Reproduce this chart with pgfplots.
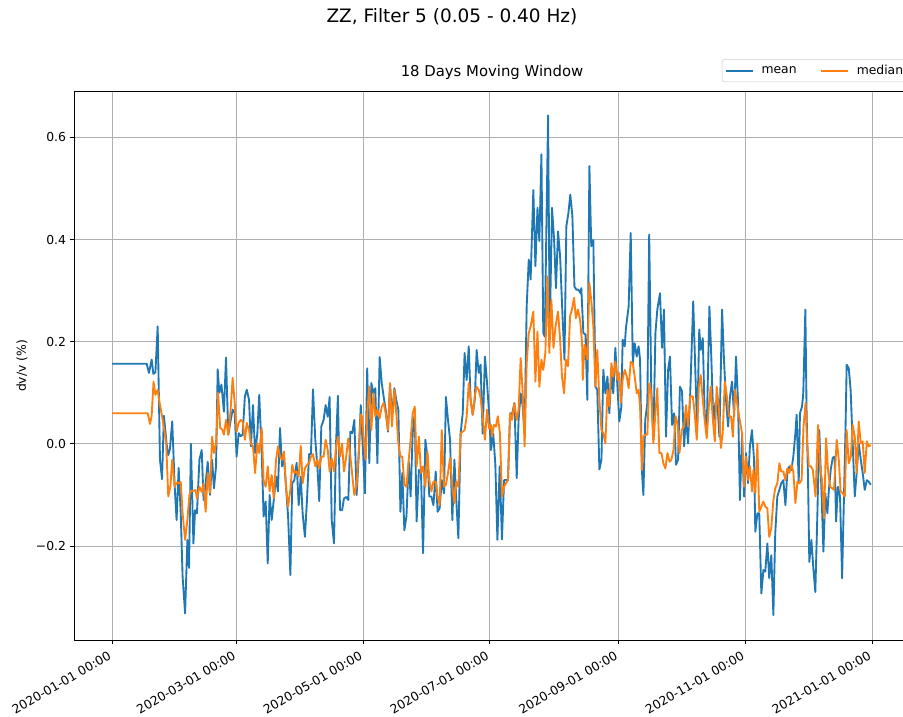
\documentclass[border=0pt]{standalone}
\usepackage{fontspec}
\setmainfont{DejaVu Sans}
\usepackage{pgfplots}
\pgfplotsset{compat=1.18}
\definecolor{mplblue}{HTML}{1F77B4}
\definecolor{mplorange}{HTML}{FF7F0E}
\definecolor{gridgray}{HTML}{B0B0B0}
\definecolor{legframe}{HTML}{CCCCCC}

\begin{document}
\begin{tikzpicture}
% 1 px of the reference = 0.72pt
\begin{axis}[
  at={(53.28pt,55.44pt)}, anchor=south west,
  scale only axis, width=601.92pt, height=394.56pt,
  xmin=-18.3, xmax=384.3, ymin=-0.384, ymax=0.689,
  axis line style={black,line width=0.71pt},
  tick style={black,line width=0.71pt}, tick align=outside, major tick length=3.1pt,
  xtick pos=bottom, ytick pos=left,
  grid=major, major grid style={gridgray,line width=0.71pt},
  /pgf/number format/assume math mode=true,
  tick label style={font=\fontsize{8.9}{10.7}\selectfont},
  xtick={0,60,121,182,244,305,366},
  xticklabels={2020-01-01 00:00,2020-03-01 00:00,2020-05-01 00:00,2020-07-01 00:00,2020-09-01 00:00,2020-11-01 00:00,2021-01-01 00:00},
  xticklabel style={rotate=30,anchor=north east,inner sep=2pt,xshift=-3pt},
  ytick={-0.2,0,0.2,0.4,0.6},
  yticklabels={−0.2,0.0,0.2,0.4,0.6},
  yticklabel style={inner sep=2.5pt},
  ylabel={dv/v (\%)},
  ylabel style={at={(axis description cs:-0.0622,0.5)},anchor=center,font=\fontsize{8.9}{10.7}\selectfont},
  title={18 Days Moving Window},
  title style={at={(axis description cs:0.5,1)},anchor=base,yshift=4.8pt,inner sep=0pt,font=\fontsize{10.7}{12.8}\selectfont},
  legend columns=2,
  legend style={at={(axis description cs:0.775,1.060)},anchor=north west,
    draw=legframe,rounded corners=2pt,fill=white,inner sep=2pt,
    font=\fontsize{8.9}{10.7}\selectfont,
    /tikz/every odd column/.append style={column sep=3.6pt},
    /tikz/every even column/.append style={column sep=15pt}},
  legend image code/.code={\draw[#1] (0pt,0pt) -- (19.4pt,0pt);},
  line join=round,
]
\addplot[mplblue,line width=1.34pt,no markers] coordinates {
(0,0.157) (16.7,0.157) (17.8,0.139) (19.1,0.165) (19.9,0.137) (20.9,0.14) (22.0,0.23) (23.1,-0.031) (24.1,-0.069) (25.0,0.055) (26.3,0.0) (27.1,-0.022) (27.9,-0.01) (29.0,0.044) (30.2,-0.084) (31.1,-0.149) (32.1,-0.047) (33.1,-0.136) (34.0,-0.26) (35.2,-0.332) (36.3,-0.188) (37.1,-0.243) (38.0,0.0) (39.2,-0.195) (40.0,-0.13) (40.9,-0.136) (42.1,-0.031) (43.2,-0.012) (44.1,-0.11) (45.1,-0.077) (46.1,-0.035) (47.2,-0.1) (48.2,-0.031) (49.1,-0.087) (50.1,-0.044) (50.9,0.146) (51.7,0.1) (52.7,0.116) (53.9,0.063) (54.9,0.169) (56.0,0.018) (57.2,0.047)
(58.1,0.067) (59.1,0.06) (60.0,-0.025) (61.0,0.021) (62.0,0.015) (62.9,0.018) (64.0,0.093) (64.9,0.106) (66.0,0.086) (66.9,-0.005) (67.9,0.076) (68.9,-0.018) (70.0,0.021) (70.9,0.096) (72.1,-0.018) (73.0,-0.142) (74.0,-0.113) (75.0,-0.234) (75.9,-0.1) (76.9,-0.149) (77.9,-0.11) (79.0,-0.064) (79.9,-0.093) (80.9,0.031) (81.9,-0.044) (82.8,-0.025) (83.8,-0.084) (84.8,-0.142) (85.9,-0.257) (86.8,-0.077) (87.8,-0.071) (88.9,-0.037) (89.9,-0.12) (90.9,-0.064) (91.8,-0.136) (92.9,-0.182) (93.9,-0.11) (94.9,-0.02) (95.8,-0.02) (96.8,0.107) (97.9,0.008) (98.9,-0.044) (99.8,-0.112) (100.8,0.034) (101.9,0.047) (102.9,0.076) (103.9,0.053) (104.8,0.092) (105.8,-0.149) (106.9,-0.195) (107.9,0.002) (108.8,0.094) (109.8,-0.13) (110.8,-0.13) (111.7,-0.107) (112.8,-0.104) (113.8,-0.11) (114.8,0.024) (115.7,0.021) (116.7,0.047) (117.8,-0.1) (118.8,-0.025) (119.8,0.076)
(121.0,-0.025) (121.8,-0.097) (122.9,0.148) (123.9,-0.038) (124.9,0.119) (125.9,0.099) (126.8,0.109) (127.8,-0.038) (128.9,0.17) (129.9,0.119) (130.8,0.093) (131.8,0.067) (132.9,0.024) (133.9,0.116) (134.8,0.054) (136.0,0.109) (136.9,0.086) (137.9,0.067) (138.9,-0.133) (139.8,-0.057) (140.8,-0.169) (141.8,-0.142) (142.9,-0.035) (143.8,-0.103) (144.8,0.021) (145.8,0.06) (146.7,-0.152) (147.8,-0.051) (148.8,-0.057) (149.8,-0.214) (150.9,0.008) (151.9,-0.025) (152.8,-0.103) (153.8,-0.103) (154.8,-0.12) (155.9,-0.054) (156.8,-0.133) (157.8,-0.126) (158.8,-0.071) (159.9,-0.097) (160.8,0.092) (161.8,0.047) (162.8,0.008) (163.9,-0.149) (164.9,-0.031) (165.8,-0.11) (166.8,-0.185) (167.9,0.021) (168.9,0.06) (169.8,0.178) (170.8,0.125) (171.8,0.191) (172.7,0.086) (173.7,0.057) (174.7,0.086) (175.6,0.184) (176.6,0.139) (177.5,0.155)
(178.5,0.02) (179.6,0.171) (180.6,0.12) (181.6,0.06) (182.5,-0.012) (183.6,0.02) (184.6,-0.04) (185.6,-0.188)
(186.7,-0.044) (187.8,-0.187) (188.8,-0.071) (189.7,-0.071) (190.7,-0.071) (191.7,0.06) (192.6,0.057) (193.8,0.08) (194.9,-0.067) (195.8,0.047) (196.8,0.099) (197.8,0.073) (198.7,0.021) (199.7,0.269) (200.7,0.361) (201.6,0.322) (202.9,0.497) (203.9,0.348) (204.9,0.462) (205.8,0.397) (206.8,0.567) (207.7,0.217) (208.4,0.21) (209.3,0.452) (210.0,0.643) (210.8,0.217) (211.9,0.462) (212.9,0.4) (213.8,0.305) (214.8,0.416) (215.8,0.367) (216.9,0.256) (217.9,0.165) (218.8,0.426) (219.8,0.452) (220.7,0.488) (221.7,0.446) (222.7,0.308) (223.6,0.302) (224.6,0.302) (225.6,0.295) (226.0,0.305) (227.0,0.217) (228.0,0.214) (228.9,0.086) (229.9,0.544) (230.8,0.387) (231.8,0.399) (232.8,0.112) (233.7,0.106) (234.7,-0.05) (235.7,-0.031) (236.6,0.145) (237.6,0.099) (238.6,0.132) (239.5,0.06)
(240.5,0.139) (241.4,0.099) (242.4,0.188) (243.4,0.112) (244.3,0.044) (245.3,0.073) (245.9,0.204) (246.9,0.191) (247.5,0.227) (248.8,0.269) (249.8,0.413) (250.8,0.158) (251.7,0.197) (252.7,0.171) (253.6,0.191) (254.3,0.165) (255.2,-0.054) (255.9,-0.1) (256.8,0.047) (257.8,0.08) (258.7,0.41) (259.7,0.106) (260.7,0.008) (261.7,0.217) (262.6,0.263) (263.9,0.295) (264.9,0.188) (265.8,0.263) (266.8,0.014) (267.8,0.145) (268.7,0.171) (269.7,0.037) (270.7,0.06) (271.6,-0.041) (272.6,-0.031) (273.5,0.112) (274.5,0.103) (275.5,-0.005) (276.4,0.054) (277.4,0.001) (278.4,0.093) (279.9,0.279) (280.8,0.158) (281.8,0.027) (282.8,0.224) (283.5,0.184) (284.5,0.207) (285.4,0.06) (286.4,0.027) (287.7,0.269) (288.6,0.171) (289.6,0.041) (290.6,0.08) (291.5,0.086) (292.5,0.014) (293.8,0.263) (294.7,0.165) (295.7,0.086) (296.7,0.034) (297.6,0.093) (298.6,0.122) (299.6,0.054) (300.5,0.171) (301.5,0.08)
(302.4,-0.11) (303.4,0.014) (304.4,-0.103) (305.3,-0.018) (306.3,-0.077) (307.2,-0.005) (308.2,0.027) (309.2,-0.031) (309.8,-0.172) (310.8,-0.136) (311.7,-0.136) (312.7,-0.293) (313.7,-0.247) (314.6,-0.25) (315.6,-0.195) (316.5,-0.263) (317.5,-0.218) (318.5,-0.335) (319.4,-0.175) (320.4,-0.103) (321.4,-0.09) (322.3,-0.077) (323.3,-0.071) (324.3,-0.12) (325.2,-0.057) (326.2,-0.044) (327.2,-0.051) (328.1,-0.025) (329.1,0.021) (329.7,0.057) (330.7,-0.077) (331.3,0.06) (332.3,0.073) (332.9,0.099) (333.9,0.263) (334.5,0.06) (335.2,-0.071) (335.8,-0.231) (336.8,-0.188) (337.7,-0.241) (338.7,-0.29) (339.7,-0.136) (340.6,0.027) (341.6,-0.084) (342.6,-0.211) (343.5,-0.097) (344.5,-0.136) (345.1,-0.097) (346.1,-0.051) (347.1,-0.027) (348.0,-0.025) (348.7,-0.152) (349.6,-0.084) (350.6,-0.103) (351.6,-0.263) (352.5,-0.103) (353.2,0.021) (353.8,0.155) (354.8,0.148) (355.7,0.106) (356.7,0.001) (357.7,-0.103) (358.6,-0.057) (359.6,0.001) (360.6,-0.031) (361.5,-0.057) (362.5,-0.09) (363.5,-0.071) (364.4,-0.074) (365.4,-0.08)
};
\addlegendentry{mean}
\addplot[mplorange,line width=1.34pt,no markers] coordinates {
(0,0.06) (17.2,0.06) (18.3,0.039) (19.1,0.055) (20.0,0.122) (20.9,0.096) (22.0,0.106) (23.1,0.076) (24.1,0.054) (25.2,0.027) (26.1,0.0) (27.1,-0.103) (28.1,-0.084) (29.0,-0.031) (30.2,-0.084) (31.1,-0.076) (32.1,-0.077) (33.1,-0.074) (34.0,-0.136) (35.2,-0.188) (36.3,-0.149) (37.3,-0.1) (38.0,-0.092) (39.2,-0.092) (40.2,-0.09) (40.9,-0.107) (42.1,-0.084) (43.2,-0.094) (44.1,-0.078) (45.1,-0.133) (46.1,-0.057) (47.2,-0.096) (48.2,0.014) (49.1,-0.018) (50.1,0.0) (51.1,0.1) (52.1,0.031) (53.1,0.028) (53.9,0.018) (54.9,0.047) (56.0,0.018) (57.0,0.06)
(58.1,0.129) (59.1,0.08) (60.0,0.024) (61.0,0.041) (62.0,0.047) (62.9,0.044) (64.0,0.008) (64.9,0.041) (66.0,0.027) (66.9,0.001) (67.9,-0.005) (68.9,-0.057) (70.0,0.001) (70.9,-0.018) (72.1,0.031) (73.0,-0.071) (74.0,-0.084) (75.0,-0.044) (75.9,-0.093) (76.9,-0.061) (77.9,-0.107) (79.0,-0.031) (79.9,-0.005) (80.9,-0.025) (81.9,-0.031) (82.8,-0.015) (83.8,-0.084) (84.8,-0.123) (85.9,-0.09) (86.8,-0.041) (87.8,-0.057) (88.9,-0.054) (89.9,-0.064) (90.9,-0.004) (91.8,-0.077) (92.9,-0.048) (93.9,-0.041) (94.9,-0.038) (95.8,-0.025) (96.8,-0.02) (97.9,-0.044) (98.9,-0.031) (99.8,-0.048) (100.8,-0.025) (101.9,-0.025) (102.9,0.008) (103.9,-0.012) (104.8,-0.054) (105.8,-0.028) (106.9,-0.054) (107.9,-0.005) (108.8,0.014) (109.8,-0.025) (110.8,0.001) (111.7,-0.054) (112.8,-0.025) (113.8,0.011) (114.8,-0.025) (115.7,-0.061) (116.7,-0.1) (117.8,-0.08) (118.8,-0.018) (119.8,0.057)
(120.4,0.054) (121.3,0.008) (122.1,-0.031) (122.9,0.06) (123.9,0.112) (124.9,0.027) (125.9,0.099) (126.8,0.054) (127.8,0.067) (128.9,0.05) (129.9,0.073) (130.8,0.08) (131.8,0.06) (132.9,0.027) (133.9,0.119) (134.8,0.034) (136.0,0.106) (136.9,0.06) (137.9,0.001) (138.9,-0.025) (139.8,-0.025) (140.8,-0.08) (141.8,-0.084) (142.9,-0.031) (143.8,0.008) (144.8,0.06) (145.8,0.073) (146.7,-0.044) (147.8,0.014) (148.8,-0.057) (149.8,-0.044) (150.9,-0.084) (151.9,-0.015) (152.8,-0.071) (153.8,-0.093) (154.8,-0.074) (155.9,-0.074) (156.8,-0.103) (157.8,-0.12) (158.8,0.027) (159.9,-0.084) (160.8,-0.08) (161.8,-0.057) (162.8,-0.028) (163.9,-0.084) (164.9,-0.116) (165.8,-0.074) (166.8,-0.084) (167.9,0.021) (168.9,0.024) (169.8,0.027) (170.8,0.054) (171.8,0.119) (172.7,0.086) (173.7,0.057) (174.7,0.093) (175.6,0.112) (176.6,0.106) (177.5,0.09) (178.5,0.054) (179.6,0.008) (180.6,0.067) (181.6,0.03) (182.5,0.037)
(183.0,0.014) (183.9,0.037) (184.9,0.034) (185.8,0.054) (186.8,0.021) (187.8,-0.103) (188.8,-0.084) (189.7,-0.077) (190.7,-0.071) (191.7,0.06) (192.6,0.047) (193.8,0.08) (194.9,0.047) (195.8,0.067) (196.8,0.168) (197.8,0.099) (198.7,-0.005) (199.7,0.158) (200.7,0.217) (201.6,0.23) (202.9,0.259) (203.9,0.122) (204.9,0.22) (205.8,0.112) (206.8,0.165) (207.7,0.145) (208.7,0.178) (209.7,0.328) (210.6,0.178) (211.6,0.282) (212.6,0.188) (213.6,0.23) (214.8,0.259) (215.8,0.204) (216.7,0.132) (217.7,0.099) (218.6,0.165) (219.6,0.152) (220.6,0.25) (221.5,0.263) (222.5,0.286) (223.4,0.246) (224.4,0.263) (225.4,0.243) (226.4,0.197) (226.7,0.125) (227.6,0.194) (228.9,0.165) (229.9,0.315) (230.8,0.282) (231.8,0.23) (232.8,0.112) (233.7,0.184) (234.7,0.086) (235.7,0.027) (236.6,0.021) (237.6,0.001) (238.6,0.106) (239.5,0.073)
(240.5,0.158) (241.4,0.132) (242.4,0.161) (243.4,0.125) (244.3,0.139) (245.0,0.08) (245.9,0.125) (246.9,0.145) (247.9,0.132) (248.8,0.109) (249.8,0.161) (250.8,0.158) (251.7,0.132) (252.7,0.099) (253.6,0.106) (254.3,0.073) (255.2,-0.051) (255.9,0.014) (256.8,0.018) (257.8,0.018) (258.7,0.119) (259.7,0.099) (260.7,0.001) (261.7,0.06) (262.6,0.109) (263.6,-0.018) (264.6,-0.018) (265.5,-0.038) (266.5,-0.048) (267.5,-0.018) (268.5,-0.035) (269.4,-0.031) (270.4,-0.012) (271.4,0.054) (272.3,0.041) (273.3,-0.018) (274.3,0.027) (275.5,0.034) (276.4,0.076) (277.4,0.034) (278.4,0.093) (279.7,0.093) (280.6,0.06) (281.6,0.008) (282.6,0.112) (283.5,0.135) (284.5,0.086) (285.4,0.047) (286.4,0.011) (287.4,0.073) (288.3,0.112) (289.3,0.05) (290.3,0.005) (291.2,0.112) (292.2,0.073) (293.2,-0.008) (294.1,0.021) (295.1,0.122) (296.1,0.093) (297.1,0.054) (298.1,0.054) (299.0,0.014) (300.0,0.106) (301.0,0.08) (302.0,0.054)
(303.4,0.021) (304.4,-0.084) (305.3,-0.025) (306.3,-0.071) (307.2,-0.044) (308.2,-0.093) (308.9,-0.051) (309.8,-0.097) (310.8,0.001) (311.7,-0.133) (312.7,-0.123) (313.7,-0.113) (314.6,-0.123) (315.6,-0.126) (316.5,-0.182) (317.5,-0.165) (318.5,-0.11) (319.4,-0.087) (320.4,-0.077) (321.4,-0.038) (322.3,-0.054) (323.3,-0.054) (324.3,-0.071) (325.2,-0.048) (326.2,-0.057) (327.2,-0.041) (328.1,-0.054) (329.1,-0.116) (330.1,-0.074) (331.1,-0.077) (332.1,-0.071) (333.0,0.034) (334.0,0.08) (334.6,0.014) (335.6,-0.044) (336.6,-0.044) (337.5,-0.051) (338.8,-0.103) (340.0,0.037) (341.0,-0.044) (341.9,-0.071) (342.9,-0.146) (343.9,0.011) (344.8,-0.051) (345.8,-0.084) (346.8,-0.087) (347.7,-0.09) (349.0,0.008) (350.0,-0.031) (350.9,-0.093) (351.9,-0.097) (352.9,-0.103) (353.8,0.027) (354.8,-0.038) (355.8,-0.025) (356.7,0.037) (357.7,0.014) (358.6,-0.057) (359.6,0.044) (360.6,0.001) (361.5,0.005) (362.5,-0.057) (363.5,0.005) (364.4,-0.005) (365.4,-0.002)
};
\addlegendentry{median}
\end{axis}
\node[font=\fontsize{13.3}{16}\selectfont,anchor=center] at (325.44pt,504pt) {ZZ, Filter 5 (0.05 - 0.40 Hz)};
\pgfresetboundingbox
\path[use as bounding box] (0pt,0pt) rectangle (650.16pt,516.24pt);
\end{tikzpicture}
\end{document}
